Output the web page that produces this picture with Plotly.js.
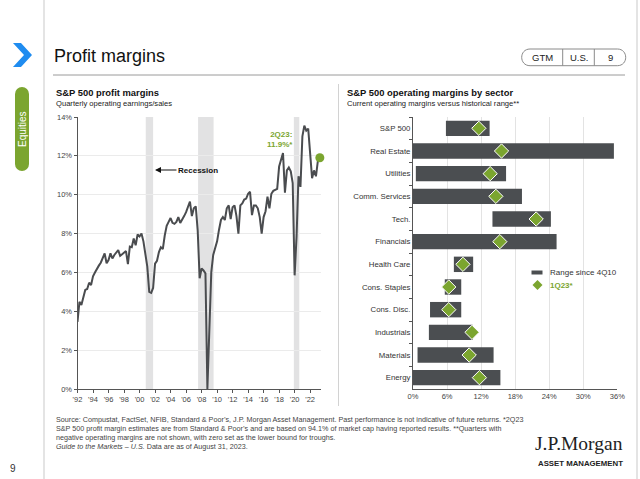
<!DOCTYPE html>
<html>
<head>
<meta charset="utf-8">
<script src="https://cdn.plot.ly/plotly-3.0.1.min.js"></script>
<style>
html,body{margin:0;padding:0;background:#fff;}
#chart{width:640px;height:479px;}
</style>
</head>
<body>
<div id="chart"></div>
<script>
// ---------- Data: S&P 500 profit margins (quarterly, 1Q92 - 2Q23, %) ----------
const firstYear = 1992;
const profitMargin = [
  3.46, 4.49, 4.32, 4.7,     // 1992
  5.1, 5.15, 5.47, 5.35,     // 1993
  5.8, 6.0, 6.2, 6.35,       // 1994
  6.5, 6.72, 6.98, 6.47,     // 1995
  6.64, 6.98, 6.72, 6.9,     // 1996
  7.0, 7.15, 6.85, 6.95,     // 1997
  7.0, 7.1, 6.43, 7.33,      // 1998
  7.3, 7.75, 7.4, 7.95,      // 1999
  7.85, 8.0, 7.6, 7.05,      // 2000
  6.3, 5.0, 4.95, 5.2,       // 2001
  6.45, 6.6, 7.05, 7.3,      // 2002
  7.2, 7.9, 8.4, 8.6,        // 2003
  8.8, 8.55, 8.5, 8.6,       // 2004
  8.85, 8.55, 8.7, 8.9,      // 2005
  9.1, 9.35, 9.65, 8.9,      // 2006
  9.3, 9.4, 8.15, 5.7,       // 2007
  6.2, 6.1, 5.95, 0.0,       // 2008
  3.4, 6.0, 6.9, 7.25,       // 2009
  7.6, 8.2, 8.7, 8.85,       // 2010
  8.7, 9.3, 9.45, 8.75,      // 2011
  9.35, 9.45, 8.9, 8.0,      // 2012
  9.45, 9.55, 9.75, 9.8,     // 2013
  10.05, 10.15, 8.95, 9.45,  // 2014
  9.45, 9.3, 8.85, 8.0,      // 2015
  8.85, 9.15, 9.9, 9.3,      // 2016
  10.05, 10.2, 10.25, 10.3,  // 2017
  11.45, 11.8, 12.15, 10.1,  // 2018
  11.25, 11.4, 11.2, 10.6,   // 2019
  5.85, 7.85, 10.95, 10.4,   // 2020
  13.0, 13.55, 13.3, 13.4,   // 2021
  12.1, 10.85, 11.25, 10.95, // 2022
  11.75, 11.9                // 2023
];
const recessionStart = [2000.8, 2007.55, 2019.9];
const recessionEnd   = [2001.75, 2009.55, 2020.6];
const yearTicks = [1992,1994,1996,1998,2000,2002,2004,2006,2008,2010,2012,2014,2016,2018,2020,2022];
const yearTickLabels = ["'92","'94","'96","'98","'00","'02","'04","'06","'08","'10","'12","'14","'16","'18","'20","'22"];

// ---------- Data: S&P 500 operating margins by sector (%) ----------
const sectors = ['S&P 500','Real Estate','Utilities','Comm. Services','Tech.','Financials',
                 'Health Care','Cons. Staples','Cons. Disc.','Industrials','Materials','Energy'];
const rangeLow  = [5.8, 0.0, 0.5, 0.0, 14.0, 0.0, 7.2, 5.6, 3.0, 2.8, 0.8, 0.0];
const rangeHigh = [13.5, 35.4, 16.4, 19.2, 24.3, 25.3, 10.6, 8.5, 8.5, 10.5, 14.2, 15.4];
const current1Q23 = [11.6, 15.6, 13.6, 14.6, 21.7, 15.3, 8.8, 6.3, 6.3, 10.4, 9.9, 11.7];

// ---------- Build ----------
const W = 640, H = 479;
const px = x => x / W;
const py = y => 1 - y / H;
const P = (x, y) => px(x).toFixed(5) + ',' + py(y).toFixed(5);

const quarterX = profitMargin.map((_, i) => firstYear + i / 4);
const lastIdx = profitMargin.length - 1;

const GREEN = '#7ba52f';
const DARK = '#4b4e51';
const FONT = 'Liberation Sans, Arial, Helvetica, sans-serif';

const traces = [
  {
    type: 'scatter', mode: 'lines', x: quarterX, y: profitMargin,
    line: {color: '#4a4c4f', width: 2}, xaxis: 'x', yaxis: 'y', hoverinfo: 'skip'
  },
  {
    type: 'scatter', mode: 'markers', x: [quarterX[lastIdx]], y: [profitMargin[lastIdx]],
    marker: {color: GREEN, size: 9}, cliponaxis: false, xaxis: 'x', yaxis: 'y'
  },
  {
    type: 'bar', orientation: 'h', y: sectors,
    x: rangeHigh.map((h, i) => h - rangeLow[i]), base: rangeLow,
    marker: {color: DARK}, width: 0.68, xaxis: 'x2', yaxis: 'y2'
  },
  {
    type: 'scatter', mode: 'markers', x: current1Q23, y: sectors,
    marker: {symbol: 'diamond', size: 11, color: GREEN, line: {color: '#ffffff', width: 1}},
    cliponaxis: false, xaxis: 'x2', yaxis: 'y2'
  }
];

const shapes = [];
// recession bands
recessionStart.forEach((s, i) => {
  shapes.push({type: 'rect', xref: 'x', yref: 'y domain', x0: s, x1: recessionEnd[i], y0: 0, y1: 1,
               fillcolor: '#e2e2e3', line: {width: 0}, layer: 'below'});
});
// frame lines
shapes.push({type: 'line', xref: 'paper', yref: 'paper', x0: px(44), x1: px(44), y0: 0, y1: 1, line: {color: '#c9c9c9', width: 1}});
shapes.push({type: 'line', xref: 'paper', yref: 'paper', x0: px(637), x1: px(637), y0: 0, y1: 1, line: {color: '#c9c9c9', width: 1}});
shapes.push({type: 'line', xref: 'paper', yref: 'paper', x0: px(338.5), x1: px(338.5), y0: py(84), y1: py(406), line: {color: '#d2d2d2', width: 1}});
shapes.push({type: 'line', xref: 'paper', yref: 'paper', x0: px(53), x1: px(625), y0: py(75), y1: py(75), line: {color: '#9a9a9a', width: 1}});
// chevron
shapes.push({type: 'path', xref: 'paper', yref: 'paper',
  path: 'M' + P(13,43) + 'L' + P(21,43) + 'L' + P(32,55) + 'L' + P(21,67) + 'L' + P(13,67) + 'L' + P(24,55) + 'Z',
  fillcolor: '#1f8cf0', line: {width: 0}});
// green Equities pill
shapes.push({type: 'circle', xref: 'paper', yref: 'paper', x0: px(15), x1: px(29), y0: py(101), y1: py(87), fillcolor: GREEN, line: {width: 0}});
shapes.push({type: 'circle', xref: 'paper', yref: 'paper', x0: px(15), x1: px(29), y0: py(171), y1: py(157), fillcolor: GREEN, line: {width: 0}});
shapes.push({type: 'rect', xref: 'paper', yref: 'paper', x0: px(15), x1: px(29), y0: py(164), y1: py(94), fillcolor: GREEN, line: {width: 0}});
// GTM pill
(function(){
  const x0 = 521.7, x1 = 625.7, y0 = 49, y1 = 65.7, r = (y1 - y0) / 2, k = 4 / 3 * r;
  const path = 'M' + P(x0 + r, y0) + 'L' + P(x1 - r, y0) +
    'C' + P(x1 - r + k, y0) + ' ' + P(x1 - r + k, y1) + ' ' + P(x1 - r, y1) +
    'L' + P(x0 + r, y1) +
    'C' + P(x0 + r - k, y1) + ' ' + P(x0 + r - k, y0) + ' ' + P(x0 + r, y0) + 'Z';
  shapes.push({type: 'path', xref: 'paper', yref: 'paper', path: path, line: {color: '#8a8a8a', width: 1}});
  [562.7, 594.3].forEach(d => shapes.push({type: 'line', xref: 'paper', yref: 'paper', x0: px(d), x1: px(d), y0: py(y0), y1: py(y1), line: {color: '#8a8a8a', width: 1}}));
})();
// legend symbols (right chart)
shapes.push({type: 'rect', xref: 'paper', yref: 'paper', x0: px(531.5), x1: px(542.5), y0: py(274.5), y1: py(270.5), fillcolor: DARK, line: {width: 0}});
shapes.push({type: 'path', xref: 'paper', yref: 'paper',
  path: 'M' + P(537.5,280) + 'L' + P(542.5,285) + 'L' + P(537.5,290) + 'L' + P(532.5,285) + 'Z',
  fillcolor: GREEN, line: {width: 0}});

const ann = (text, x, y, opts) => Object.assign({
  text: text, x: px(x), y: py(y), xref: 'paper', yref: 'paper', showarrow: false,
  xanchor: 'left', yanchor: 'middle', font: {family: FONT, size: 8, color: '#222'}
}, opts || {});

const annotations = [
  ann('Profit margins', 52, 56, {font: {family: FONT, size: 18, color: '#111'}}),
  ann('GTM', 542.2, 57.5, {xanchor: 'center', font: {family: FONT, size: 9.5, color: '#222'}}),
  ann('U.S.', 578.5, 57.5, {xanchor: 'center', font: {family: FONT, size: 9.5, color: '#222'}}),
  ann('9', 610, 57.5, {xanchor: 'center', font: {family: FONT, size: 9.5, color: '#222'}}),
  ann('Equities', 22, 129, {xanchor: 'center', textangle: -90, font: {family: FONT, size: 10, color: '#ffffff'}}),
  ann('<b>S&P 500 profit margins</b>', 54, 92, {font: {family: FONT, size: 9.4, color: '#111'}}),
  ann('Quarterly operating earnings/sales', 54, 103, {font: {family: FONT, size: 7.6, color: '#222'}}),
  ann('<b>S&P 500 operating margins by sector</b>', 345, 92, {font: {family: FONT, size: 9.4, color: '#111'}}),
  ann('Current operating margins versus historical range**', 345, 103, {font: {family: FONT, size: 7.6, color: '#222'}}),
  ann('<b>2Q23:<br>11.9%*</b>', 295, 139, {xanchor: 'right', align: 'right', font: {family: FONT, size: 8, color: GREEN}}),
  {text: '<b>Recession</b>', x: px(155), y: py(170), xref: 'paper', yref: 'paper', showarrow: true,
   ax: 43, ay: 0, arrowhead: 2, arrowsize: 1, arrowwidth: 1.2, arrowcolor: '#111',
   font: {family: FONT, size: 8, color: '#111'}},
  ann('Range since 4Q10', 548, 272.5, {font: {family: FONT, size: 8, color: '#333'}}),
  ann('<b>1Q23*</b>', 548, 285.5, {font: {family: FONT, size: 8, color: GREEN}}),
  ann('Source: Compustat, FactSet, NFIB, Standard & Poor\u2019s, J.P. Morgan Asset Management. Past performance is not indicative of future returns. *2Q23', 54, 419.5, {font: {family: FONT, size: 7.2, color: '#444'}}),
  ann('S&P 500 profit margin estimates are from Standard & Poor\u2019s and are based on 94.1% of market cap having reported results. **Quarters with', 54, 428.5, {font: {family: FONT, size: 7.2, color: '#444'}}),
  ann('negative operating margins are not shown, with zero set as the lower bound for troughs.', 54, 437.5, {font: {family: FONT, size: 7.2, color: '#444'}}),
  ann('<i>Guide to the Markets \u2013 U.S.</i> Data are as of August 31, 2023.', 54, 446.5, {font: {family: FONT, size: 7.2, color: '#444'}}),
  ann('J.P.Morgan', 625, 443, {xanchor: 'right', font: {family: 'Liberation Serif, Times New Roman, serif', size: 19.5, color: '#222'}}),
  ann('<b>ASSET MANAGEMENT</b>', 625, 463, {xanchor: 'right', font: {family: FONT, size: 7.8, color: '#222'}}),
  ann('9', 13, 468, {xanchor: 'center', font: {family: FONT, size: 10, color: '#333'}})
];

const layout = {
  width: W, height: H,
  margin: {l: 0, r: 0, t: 0, b: 0},
  paper_bgcolor: '#ffffff', plot_bgcolor: 'rgba(0,0,0,0)',
  showlegend: false,
  font: {family: FONT, size: 8, color: '#444'},
  xaxis: {
    domain: [px(77.5), px(321)], anchor: 'y', range: [1992, 2023.4],
    tickmode: 'array', tickvals: yearTicks, ticktext: yearTickLabels,
    showgrid: false, zeroline: false, showline: true, linecolor: '#555', linewidth: 1,
    ticks: 'outside', ticklen: 3, tickcolor: '#555', tickfont: {size: 7.5, color: '#444'}, fixedrange: true
  },
  yaxis: {
    domain: [py(389), py(117)], anchor: 'x', range: [0, 14], dtick: 2, ticksuffix: '%',
    showgrid: true, gridcolor: '#ebebeb', zeroline: false, showline: true, linecolor: '#555', linewidth: 1,
    ticks: 'outside', ticklen: 3, tickcolor: '#555', tickfont: {size: 7.5, color: '#444'}, fixedrange: true
  },
  xaxis2: {
    domain: [px(413), px(617.3)], anchor: 'y2', range: [0, 36], dtick: 6, ticksuffix: '%',
    showgrid: true, gridcolor: '#e3e3e3', zeroline: false, showline: true, linecolor: '#555', linewidth: 1,
    ticks: '', tickfont: {size: 7.5, color: '#444'}, fixedrange: true
  },
  yaxis2: {
    domain: [py(389), py(117)], anchor: 'x2', type: 'category',
    categoryorder: 'array', categoryarray: sectors, range: [11.5, -0.5],
    showgrid: false, zeroline: false, showline: true, linecolor: '#555', linewidth: 1,
    ticks: 'outside', tickson: 'boundaries', ticklen: 3, tickcolor: '#555',
    tickfont: {size: 7.8, color: '#333'}, fixedrange: true
  },
  shapes: shapes,
  annotations: annotations,
  bargap: 0.3
};

Plotly.newPlot('chart', traces, layout, {displayModeBar: false, staticPlot: true});
</script>
</body>
</html>
